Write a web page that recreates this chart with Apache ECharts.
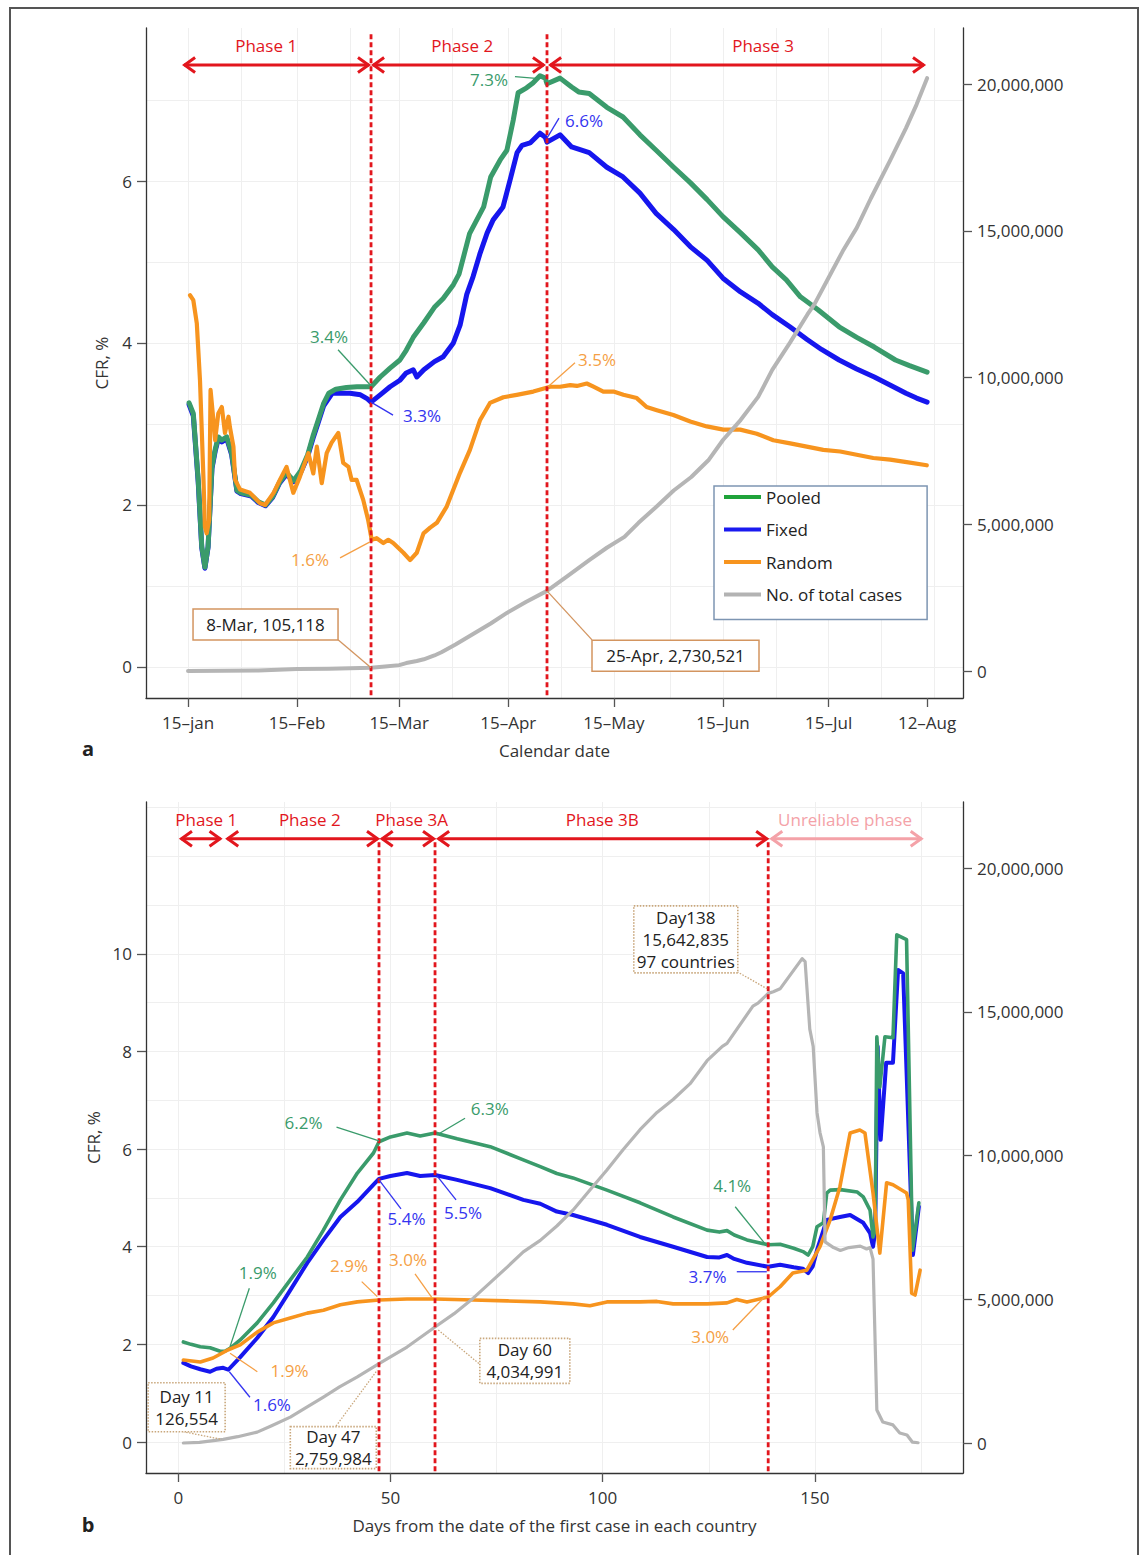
<!DOCTYPE html>
<html><head><meta charset="utf-8">
<script src="https://cdn.jsdelivr.net/npm/echarts@6/dist/echarts.min.js"></script>
<style>html,body{margin:0;padding:0;background:#fff}#c{width:1144px;height:1555px}</style>
</head><body><div id="c"></div>
<script>
// ---------- DATA ----------
const topTickDays = [0, 31, 60, 91, 121, 152, 182, 210];
const topTickLabels = ['15–jan', '15–Feb', '15–Mar', '15–Apr', '15–May', '15–Jun', '15–Jul', '12–Aug'];
const topCfrTicks = [0, 2, 4, 6];
const caseTicks = [0, 5000000, 10000000, 15000000, 20000000];
const bottomTickDays = [0, 50, 100, 150];
const bottomCfrTicks = [0, 2, 4, 6, 8, 10];
const seriesNames = ['Pooled', 'Fixed', 'Random', 'No. of total cases'];

// Panel a: [day since 15-Jan, CFR %]
const topPooled = [[0.3,3.26],[1.5,3.13],[2.9,2.3],[3.9,1.49],[4.8,1.23],[5.7,1.49],[6.8,2.47],[7.7,2.68],[8.6,2.84],[9.6,2.8],[11,2.84],[12.4,2.64],[13.9,2.18],[15,2.15],[18,2.12],[20,2.04],[22,2.0],[24,2.1],[26,2.28],[28,2.4],[30,2.3],[32,2.42],[34,2.62],[35.5,2.85],[37,3.05],[38.5,3.25],[40,3.38],[42,3.43],[45,3.45],[48,3.46],[52,3.46],[54.6,3.58],[57.4,3.69],[60.2,3.79],[62,3.91],[64,4.07],[67,4.25],[70,4.44],[72.5,4.55],[75.4,4.72],[77,4.85],[80,5.35],[84,5.68],[86,6.05],[88.7,6.26],[90.6,6.38],[92.4,6.75],[93.8,7.09],[96.2,7.15],[98,7.21],[100,7.3],[101.5,7.27],[102,7.2],[105.7,7.27],[109,7.16],[111,7.1],[114,7.08],[119,6.91],[123.6,6.79],[128.4,6.57],[133,6.38],[138,6.17],[142.7,5.98],[147.5,5.77],[152,5.56],[157,5.36],[162,5.15],[166,4.94],[170,4.78],[174,4.57],[179,4.41],[185,4.2],[190,4.07],[195,3.95],[201,3.79],[205,3.72],[210,3.64]];
const topFixed = [[0.3,3.24],[1.5,3.1],[2.9,2.28],[3.9,1.47],[4.8,1.22],[5.7,1.48],[6.8,2.45],[7.7,2.66],[8.6,2.82],[9.6,2.78],[11,2.82],[12.4,2.62],[13.9,2.17],[15,2.14],[18,2.11],[20,2.03],[22,1.99],[24,2.09],[26,2.27],[28,2.38],[30,2.29],[32,2.4],[34,2.6],[35.5,2.82],[37,3.02],[38.5,3.22],[41,3.38],[46,3.38],[49,3.36],[51,3.31],[52,3.27],[54.6,3.36],[57.4,3.46],[60.2,3.54],[62,3.63],[64,3.67],[65,3.58],[67,3.67],[70,3.77],[72.5,3.83],[75.4,4.0],[77.3,4.22],[79.2,4.6],[81,4.82],[83,5.11],[85,5.36],[86.7,5.52],[89.5,5.68],[91.5,6.01],[93.5,6.35],[94.9,6.44],[97.2,6.47],[100,6.59],[101.5,6.54],[102,6.48],[105.7,6.57],[109,6.42],[114,6.35],[119,6.17],[123.6,6.05],[128.4,5.85],[133,5.6],[138,5.4],[142.7,5.19],[147.5,5.02],[152,4.8],[157,4.63],[162,4.49],[166,4.35],[171,4.2],[176,4.04],[180,3.92],[185,3.79],[190,3.68],[195,3.58],[200,3.47],[204,3.38],[207,3.32],[210,3.27]];
const topRandom = [[0.57,4.59],[1.5,4.53],[2.5,4.24],[3.4,3.54],[4.4,2.31],[4.8,1.73],[5.3,1.65],[6.0,1.81],[6.4,3.42],[7.2,3.05],[7.7,2.8],[8.6,3.13],[9.6,3.21],[10.5,2.89],[11.5,3.09],[11.9,2.96],[12.9,2.72],[13.4,2.31],[14.8,2.19],[17.6,2.15],[20.5,2.02],[21.9,2.0],[24.3,2.15],[26.1,2.31],[28,2.47],[29.9,2.15],[31.8,2.35],[34.2,2.64],[35.6,2.39],[36.6,2.72],[38,2.27],[39.4,2.64],[40.8,2.77],[42.7,2.89],[44.1,2.52],[45.6,2.47],[46.5,2.31],[47.9,2.31],[49.8,2.06],[51.2,1.81],[52.2,1.57],[53.6,1.59],[55.5,1.53],[56.9,1.57],[58.3,1.53],[61.2,1.41],[63.1,1.32],[65,1.41],[66.9,1.65],[68.8,1.72],[70.7,1.78],[73.5,1.98],[77.3,2.4],[80.1,2.68],[83,3.05],[85.8,3.26],[89.6,3.33],[93.4,3.36],[98.1,3.4],[102.9,3.46],[105.7,3.46],[108.6,3.48],[110.5,3.47],[113.3,3.5],[115.2,3.46],[118,3.4],[120.9,3.4],[123.7,3.36],[127.5,3.32],[130.3,3.21],[133.2,3.17],[137.9,3.11],[142.7,3.03],[147.4,2.97],[152.1,2.93],[156.9,2.93],[161.6,2.88],[166.3,2.8],[171.1,2.76],[175.8,2.72],[180.5,2.68],[185.3,2.66],[190,2.62],[194.7,2.58],[199.5,2.56],[204.2,2.53],[209.9,2.49]];
const topCases = [[0,0],[10,5000],[20,20000],[31,70000],[40,80000],[46,90000],[52,110000],[56,150000],[60,200000],[62,270000],[65,340000],[67,400000],[70,530000],[72,640000],[76,900000],[81,1260000],[86,1620000],[90.6,1980000],[96,2350000],[102,2730521],[108,3250000],[114,3780000],[119,4200000],[124,4570000],[128,5050000],[133,5590000],[138,6150000],[143,6610000],[148,7200000],[152,7870000],[157,8550000],[162,9340000],[166,10260000],[171,11180000],[176,12150000],[178,12500000],[182,13400000],[186,14300000],[190,15100000],[194,16100000],[199.5,17400000],[204,18500000],[207,19300000],[210,20200000]];

// Panel b: [days from first case, CFR %]
const botPooled = [[1.2,2.05],[3,2.0],[5.2,1.95],[7.5,1.93],[9.9,1.86],[11,1.86],[12.2,1.92],[14.6,2.09],[18.6,2.44],[22.4,2.85],[26.4,3.32],[30.4,3.79],[34.2,4.34],[38.2,4.96],[42.2,5.51],[46,5.92],[47.3,6.15],[50,6.25],[53.9,6.33],[57,6.27],[60.5,6.33],[65.7,6.21],[73.5,6.05],[81.3,5.78],[85.3,5.64],[89.2,5.5],[93,5.41],[101,5.16],[108.8,4.9],[116.6,4.61],[124.6,4.34],[127.5,4.3],[129.3,4.33],[131,4.24],[134,4.14],[139,4.04],[141.8,4.05],[145,3.97],[147.2,3.9],[148.4,3.83],[149.5,4.0],[150.5,4.41],[152,4.49],[152.8,5.1],[153.6,5.16],[156,5.17],[160,5.12],[161.4,5.02],[163,4.75],[163.7,4.2],[164.2,4.34],[164.6,8.3],[165.3,7.27],[166.5,8.3],[168.4,8.28],[169.3,10.39],[171.6,10.29],[173,3.93],[174.5,4.9]];
const botFixed = [[1.2,1.62],[3,1.55],[5.2,1.49],[7.5,1.44],[9,1.5],[10.6,1.52],[11.8,1.48],[14.6,1.74],[18.6,2.13],[22.4,2.56],[26.4,3.11],[30.4,3.67],[34.2,4.14],[38.2,4.61],[42.2,4.92],[46,5.27],[47.3,5.39],[50,5.45],[53.9,5.51],[57,5.45],[60.5,5.47],[65.7,5.37],[73.5,5.2],[81.3,4.96],[85.3,4.88],[89.2,4.72],[93,4.65],[101,4.45],[108.8,4.2],[116.6,4.0],[124.6,3.79],[127.5,3.78],[129.3,3.83],[131,3.75],[134,3.67],[139,3.59],[141.8,3.63],[145,3.58],[147.2,3.55],[148.4,3.46],[149.5,3.6],[150.5,3.93],[152.8,4.55],[155.9,4.61],[158.3,4.65],[161.4,4.49],[163,4.28],[163.7,4.0],[164.2,4.3],[164.8,8.1],[165.5,6.19],[166.8,7.77],[168.4,7.77],[169.6,9.67],[170.8,9.6],[173.1,3.83],[174.5,4.82]];
const botRandom = [[1.2,1.68],[5.2,1.64],[8.2,1.72],[11.8,1.89],[14.6,1.99],[18.6,2.25],[22.4,2.44],[26.4,2.54],[30.4,2.64],[34.2,2.7],[38.2,2.81],[42.2,2.87],[47.3,2.91],[53.9,2.93],[60.5,2.93],[69.5,2.91],[77.5,2.89],[85.3,2.87],[93,2.83],[97,2.79],[101,2.87],[108.8,2.87],[112.8,2.88],[116.6,2.83],[124.6,2.83],[129.3,2.85],[131.6,2.92],[134,2.87],[139,2.97],[141.8,3.18],[144.8,3.46],[148.1,3.52],[151.2,4.0],[153.6,4.55],[155.9,5.23],[158.3,6.33],[160.6,6.39],[161.8,6.33],[163.7,5.1],[165.3,3.87],[166.9,5.31],[168.4,5.27],[171.6,5.1],[172,4.96],[172.8,3.05],[173.6,3.01],[174.8,3.52]];
const botCases = [[1.2,0],[5,20000],[10.6,126554],[14,220000],[18.6,380000],[22,600000],[26.4,900000],[30,1220000],[34.2,1600000],[38,1950000],[42.2,2300000],[47.3,2759984],[53.9,3340000],[60.5,4034991],[65,4500000],[69.5,5040000],[73.5,5580000],[77.5,6120000],[81.3,6650000],[85.3,7050000],[89.2,7550000],[93,8100000],[97,8800000],[101,9500000],[104.8,10200000],[108.8,10900000],[112.8,11500000],[116.6,11950000],[120.6,12500000],[124.6,13300000],[128.2,13800000],[129.3,13900000],[135.4,15200000],[136.6,15300000],[139,15642835],[140.2,15700000],[141.8,15800000],[147,16850000],[147.7,16750000],[148.8,14400000],[149.6,13800000],[150.5,11500000],[151.2,10800000],[152,10300000],[152.4,7000000],[154.4,6800000],[156,6700000],[158,6800000],[160.7,6850000],[162.2,6750000],[163,6800000],[163.7,6400000],[164.6,1150000],[166,730000],[168.4,630000],[170,350000],[171.7,280000],[173,30000],[174.3,10000]];

// Phase boundaries (days) and phase spans
const topBoundaries = [52, 102];
const topPhases = [
  {from: -1.4, to: 51.7, label: 'Phase 1', labelAt: 22.2},
  {from: 52.3, to: 101.4, label: 'Phase 2', labelAt: 77.9},
  {from: 102.6, to: 209.4, label: 'Phase 3', labelAt: 163.4}
];
const botBoundaries = [47.3, 60.5, 139];
const botPhases = [
  {from: 0.4, to: 10.2, label: 'Phase 1', labelAt: 6.6},
  {from: 11.3, to: 47.3, label: 'Phase 2', labelAt: 31},
  {from: 47.7, to: 60.5, label: 'Phase 3A', labelAt: 55},
  {from: 61, to: 139, label: 'Phase 3B', labelAt: 99.9},
  {from: 139.5, to: 175.4, label: 'Unreliable phase', labelAt: 157.1, faded: true}
];

// ---------- STYLE ----------
const FONT = '"Open Sans","Noto Sans",sans-serif';
const FS = 17;
const C = {
  pooled: '#3a9b6b', fixed: '#1616ee', random: '#f7941e', cases: '#b5b5b5',
  pooledT: '#3a9b6b', fixedT: '#3434f0', randomT: '#f59f45',
  red: '#e2161d', pink: '#f4a2a8', grid: '#efefef', axis: '#333'
};

const chart = echarts.init(document.getElementById('c'), null, {renderer: 'svg', width: 1144, height: 1555});

function xAx(grid, min, max, ticks, fmt, name) {
  return {type: 'value', gridIndex: grid, min, max, name, nameLocation: 'middle', nameGap: 44,
    nameTextStyle: {fontSize: FS, color: '#333', fontFamily: FONT},
    axisLine: {show: true, onZero: false, lineStyle: {color: C.axis, width: 1.3}},
    axisTick: {show: true, length: 9, customValues: ticks, lineStyle: {color: '#555', width: 1.3}},
    axisLabel: {customValues: ticks, formatter: fmt, fontSize: FS, color: '#333', fontFamily: FONT, margin: 16},
    splitLine: {show: false}};
}
function yAx(grid, min, max, ticks, pos, fmt, name) {
  return {type: 'value', gridIndex: grid, min, max, position: pos, name: name || '', nameLocation: 'middle', nameGap: 36, nameRotate: 90,
    nameTextStyle: {fontSize: FS, color: '#333', fontFamily: FONT},
    axisLine: {show: true, onZero: false, lineStyle: {color: C.axis, width: 1.3}},
    axisTick: {show: true, length: 9, customValues: ticks, lineStyle: {color: '#555', width: 1.3}},
    axisLabel: {customValues: ticks, formatter: fmt, fontSize: FS, color: '#333', fontFamily: FONT, margin: 14},
    splitLine: {show: false}};
}
const fmtNum = v => Math.round(v).toLocaleString('en-US');

function seriesLine(name, data, xi, yi, color, width, z) {
  return {type: 'line', name, data, xAxisIndex: xi, yAxisIndex: yi, showSymbol: false, symbol: 'none',
    lineStyle: {color, width, cap: 'round', join: 'round'}, itemStyle: {color}, z, silent: true, animation: false};
}
function gridSeries(xi, yi, xs, ys) {
  return {type: 'line', data: [], xAxisIndex: xi, yAxisIndex: yi, silent: true, z: 0,
    markLine: {silent: true, symbol: 'none', z: 0, animation: false, label: {show: false},
      lineStyle: {color: C.grid, width: 1, type: 'solid'},
      data: xs.map(x => ({xAxis: x})).concat(ys.map(y => ({yAxis: y})))}};
}

const topGridX = [0,15,31,46,60,75,91,106,121,137,152,167,182,197,212];
const topGridY = [0,1,2,3,4,5,6,7];
const botGridX = [0,25,50,75,100,125,150,175];
const botGridY = [0,1,2,3,4,5,6,7,8,9,10,11,12,13];

chart.setOption({
  animation: false,
  backgroundColor: '#fff',
  grid: [
    {left: 146, top: 28, width: 817, height: 670},
    {left: 146, top: 802, width: 817, height: 671}
  ],
  xAxis: [
    xAx(0, -11.94, 220.2, topTickDays, v => topTickLabels[topTickDays.indexOf(v)], 'Calendar date'),
    xAx(1, -7.6, 184.9, bottomTickDays, v => String(v), 'Days from the date of the first case in each country')
  ],
  yAxis: [
    yAx(0, -0.383, 7.889, topCfrTicks, 'left', v => String(v), 'CFR, %'),
    yAx(0, -920000, 21910000, caseTicks, 'right', fmtNum),
    yAx(1, -0.635, 13.11, bottomCfrTicks, 'left', v => String(v), 'CFR, %'),
    yAx(1, -1043000, 22300000, caseTicks, 'right', fmtNum)
  ],
  legend: {
    left: 714, top: 486, orient: 'vertical', selectedMode: false,
    padding: [1, 25, 15, 10], itemGap: 12.5, itemWidth: 37, itemHeight: 4, icon: 'rect',
    borderColor: '#7d95b2', borderWidth: 1.5, backgroundColor: '#fff',
    textStyle: {fontSize: FS, color: '#222', fontFamily: FONT, lineHeight: 20},
    data: [
      {name: seriesNames[0], itemStyle: {color: '#1fa33a'}},
      {name: seriesNames[1], itemStyle: {color: '#1a1af0'}},
      {name: seriesNames[2], itemStyle: {color: '#f7941e'}},
      {name: seriesNames[3], itemStyle: {color: '#b3b3b3'}}
    ]
  },
  series: [
    gridSeries(0, 0, topGridX, topGridY),                               // 0
    seriesLine(seriesNames[1], topFixed, 0, 0, C.fixed, 5, 2),          // 1
    seriesLine(seriesNames[0], topPooled, 0, 0, C.pooled, 5, 3),        // 2
    seriesLine(seriesNames[2], topRandom, 0, 0, C.random, 4.2, 4),      // 3
    seriesLine(seriesNames[3], topCases, 0, 1, C.cases, 4, 5),          // 4
    gridSeries(1, 2, botGridX, botGridY),                               // 5
    seriesLine(seriesNames[1], botFixed, 1, 2, C.fixed, 4, 2),          // 6
    seriesLine(seriesNames[0], botPooled, 1, 2, C.pooled, 3.6, 3),      // 7
    seriesLine(seriesNames[2], botRandom, 1, 2, C.random, 3.6, 4),      // 8
    seriesLine(seriesNames[3], botCases, 1, 3, C.cases, 3.2, 5)         // 9
  ]
});

// ---------- ANNOTATIONS (positioned through the chart's own scales) ----------
const S = {topL: 2, topR: 4, botL: 7, botR: 9};
function P(si, d, v) { return chart.convertToPixel({seriesIndex: si}, [d, v]); }
const G = [];
function gLine(p1, p2, color, w, dash, z) {
  G.push({type: 'line', silent: true, z: z || 50, shape: {x1: p1[0], y1: p1[1], x2: p2[0], y2: p2[1]},
    style: {stroke: color, lineWidth: w, lineDash: dash || null}});
}
function gText(p, t, color, size, weight) {
  G.push({type: 'text', silent: true, z: 60, x: p[0], y: p[1],
    style: {text: t, fill: color, fontSize: size || FS, fontWeight: weight || 'normal', fontFamily: FONT, align: 'center', verticalAlign: 'middle'}});
}
function gArrow(x1, x2, y, color) {
  gLine([x1 + 1, y], [x2 - 1, y], color, 3);
  G.push({type: 'polyline', silent: true, z: 50, shape: {points: [[x1 + 12, y - 7.5], [x1 + 1.5, y], [x1 + 12, y + 7.5]]}, style: {stroke: color, lineWidth: 3, fill: null}});
  G.push({type: 'polyline', silent: true, z: 50, shape: {points: [[x2 - 12, y - 7.5], [x2 - 1.5, y], [x2 - 12, y + 7.5]]}, style: {stroke: color, lineWidth: 3, fill: null}});
}

// dashed boundaries
topBoundaries.forEach(d => gLine(P(S.topL, d, -0.35), P(S.topL, d, 7.82), C.red, 2.8, [5, 3], 45));
botBoundaries.forEach(d => gLine(P(S.botL, d, -0.6), P(S.botL, d, 12.36), C.red, 2.8, [5, 3], 45));

// phase arrows
topPhases.forEach(ph => {
  const a = P(S.topL, ph.from, 7.432), b = P(S.topL, ph.to, 7.432);
  gArrow(a[0], b[0], a[1], C.red);
  gText(P(S.topL, ph.labelAt, 7.667), ph.label, C.red);
});
botPhases.forEach(ph => {
  const col = ph.faded ? C.pink : C.red;
  const a = P(S.botL, ph.from, 12.357), b = P(S.botL, ph.to, 12.357);
  gArrow(a[0], b[0], a[1], col);
  gText(P(S.botL, ph.labelAt, 12.746), ph.label, col);
});

// percentage call-outs: anchor on the curve, text offset, leader offsets (px)
const callouts = [
  {s: S.topL, at: [100, 7.3], t: '7.3%', c: C.pooledT, o: [-51, 4], l: [[-25, 1], [-1, 3]]},
  {s: S.topL, at: [102, 6.48], t: '6.6%', c: C.fixedT, o: [37, -22], l: [[0, -4], [12, -24]]},
  {s: S.topL, at: [52, 3.46], t: '3.4%', c: C.pooledT, o: [-42, -50], l: [[-33, -37], [-1, -2]]},
  {s: S.topL, at: [52, 3.27], t: '3.3%', c: C.fixedT, o: [51, 13], l: [[0, 0], [22, 13]]},
  {s: S.topL, at: [52, 1.57], t: '1.6%', c: C.randomT, o: [-61, 20], l: [[-31, 18], [-1, 2]]},
  {s: S.topL, at: [102, 3.46], t: '3.5%', c: C.randomT, o: [50, -27], l: [[1, 0], [28, -24]]},
  {s: S.botL, at: [47.3, 6.15], t: '6.2%', c: C.pooledT, o: [-75.5, -19], l: [[-42.5, -14.6], [0, -1]]},
  {s: S.botL, at: [60.5, 6.33], t: '6.3%', c: C.pooledT, o: [54.7, -24], l: [[1.7, 2], [30, -14.8]]},
  {s: S.botL, at: [47.3, 5.39], t: '5.4%', c: C.fixedT, o: [27.5, 40], l: [[0, 1], [22, 30]]},
  {s: S.botL, at: [60.5, 5.47], t: '5.5%', c: C.fixedT, o: [28, 38], l: [[2, 1], [21, 25]]},
  {s: S.botL, at: [12.2, 1.92], t: '1.9%', c: C.pooledT, o: [27.7, -75.6], l: [[19.3, -60], [0, -1.6]]},
  {s: S.botL, at: [47.3, 2.91], t: '2.9%', c: C.randomT, o: [-30, -34], l: [[-17.3, -18.3], [-1.7, -3.3]]},
  {s: S.botL, at: [60.5, 2.93], t: '3.0%', c: C.randomT, o: [-27, -39], l: [[-20, -25], [-3.3, -1.7]]},
  {s: S.botL, at: [12.2, 1.89], t: '1.9%', c: C.randomT, o: [59.5, 21], l: [[0, 3.5], [27.3, 22]]},
  {s: S.botL, at: [11.8, 1.48], t: '1.6%', c: C.fixedT, o: [43.6, 35.2], l: [[1, 2], [21.6, 27.5]]},
  {s: S.botL, at: [139, 4.04], t: '4.1%', c: C.pooledT, o: [-36, -59], l: [[-33, -38], [-1.4, 1.2]]},
  {s: S.botL, at: [139, 3.59], t: '3.7%', c: C.fixedT, o: [-60.6, 10], l: [[-31.4, 5], [-1.4, 5]]},
  {s: S.botL, at: [139, 2.97], t: '3.0%', c: C.randomT, o: [-58, 39], l: [[-35.4, 33], [-2.8, -1]]}
];
callouts.forEach(k => {
  const a = P(k.s, k.at[0], k.at[1]);
  gLine([a[0] + k.l[0][0], a[1] + k.l[0][1]], [a[0] + k.l[1][0], a[1] + k.l[1][1]], k.c, 1.3, null, 55);
  gText([a[0] + k.o[0], a[1] + k.o[1]], k.t, k.c);
});

// boxed call-outs for total cases
const boxes = [
  {s: S.topR, at: [52, 110000], lines: ['8-Mar, 105,118'], o: [-105.5, -43.3], w: 145, h: 31, dotted: false, l: [[-33, -28], [0, 0]]},
  {s: S.topR, at: [102, 2730521], lines: ['25-Apr, 2,730,521'], o: [128.5, 65], w: 167, h: 31, dotted: false, l: [[0, 0], [45, 49]]},
  {s: S.botR, at: [139, 15642835], lines: ['Day138', '15,642,835', '97 countries'], o: [-82.4, -54], w: 104, h: 67, dotted: true, l: [[-31, -21.6], [0, -4]]},
  {s: S.botR, at: [10.6, 126554], lines: ['Day 11', '126,554'], o: [-36.6, -32.2], w: 77, h: 49, dotted: true, l: [[-40, -7.7], [-1.6, 0]]},
  {s: S.botR, at: [47.3, 2759984], lines: ['Day 47', '2,759,984'], o: [-45.7, 83.9], w: 86, h: 42, dotted: true, l: [[-44.7, 64.7], [-1.7, 6.4]]},
  {s: S.botR, at: [60.5, 4034991], lines: ['Day 60', '4,034,991'], o: [89.8, 33.8], w: 90, h: 45, dotted: true, l: [[3.3, 3], [45.7, 38]]}
];
boxes.forEach(b => {
  const a = P(b.s, b.at[0], b.at[1]);
  const col = b.dotted ? '#c9a77c' : '#d39560';
  gLine([a[0] + b.l[0][0], a[1] + b.l[0][1]], [a[0] + b.l[1][0], a[1] + b.l[1][1]], col, 1.3, b.dotted ? [1.5, 1.5] : null, 55);
  const cx = a[0] + b.o[0], cy = a[1] + b.o[1];
  G.push({type: 'rect', silent: true, z: 56, shape: {x: cx - b.w / 2, y: cy - b.h / 2, width: b.w, height: b.h},
    style: {fill: '#fff', stroke: col, lineWidth: b.dotted ? 1.6 : 1.5, lineDash: b.dotted ? [1.5, 1.5] : null}});
  const lh = 21.7, n = b.lines.length;
  b.lines.forEach((t, i) => gText([cx, cy + (i - (n - 1) / 2) * lh], t, '#222'));
});

// frame and panel letters
G.push({type: 'rect', silent: true, z: 1, shape: {x: 10, y: 8, width: 1128, height: 1600}, style: {fill: null, stroke: '#555', lineWidth: 2}});
gText([88, 748], 'a', '#222', 20, 'bold');
gText([88, 1524], 'b', '#222', 20, 'bold');

chart.setOption({graphic: {elements: G}});
</script>
</body></html>
